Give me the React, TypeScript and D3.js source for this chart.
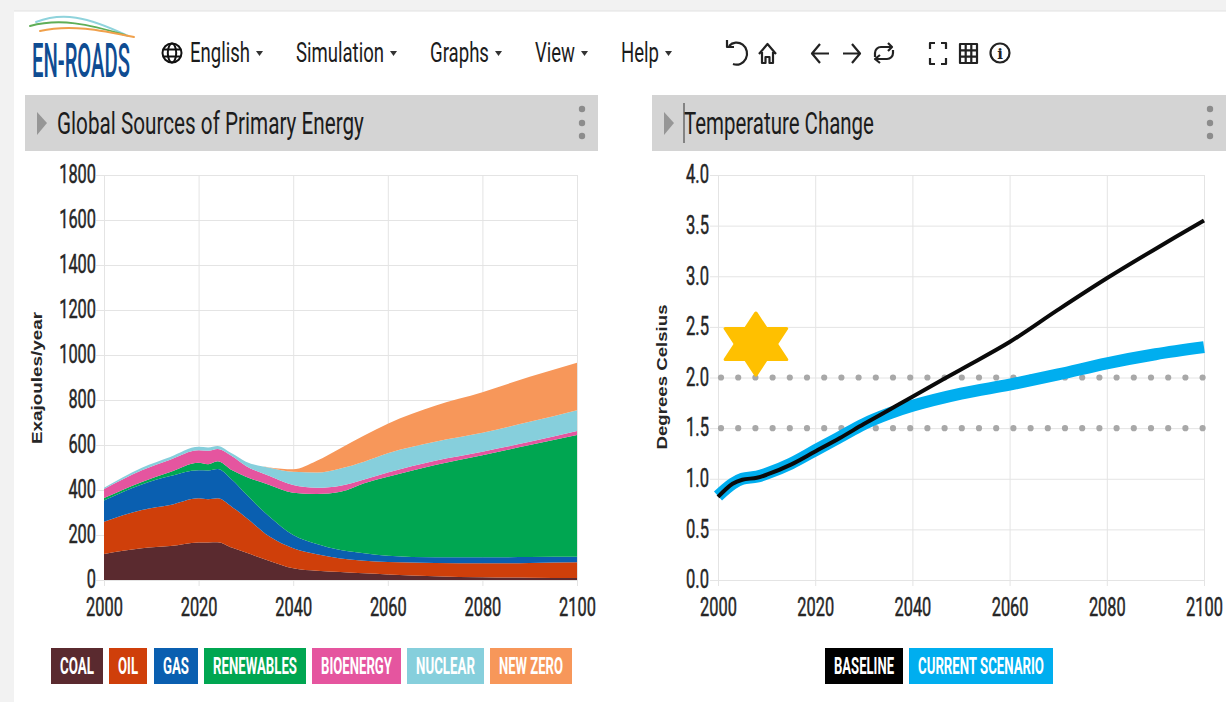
import React, { useEffect, useRef } from "react";
import * as d3 from "d3";

// values
const years = [2000, 2008, 2014, 2020, 2022, 2024, 2027, 2030, 2035, 2040, 2045, 2050, 2055, 2060, 2070, 2080, 2090, 2100];
const coal = [116, 141, 151, 167, 167, 168, 144, 122, 85, 52, 41, 36, 30, 25, 17, 12, 10, 9];
const oil = [143, 170, 182, 196, 192, 195, 182, 156, 108, 89, 73, 60, 56, 55, 59, 62, 66, 70];
const gas = [94, 114, 129, 125, 128, 130, 121, 104, 88, 59, 46, 37, 33, 28, 25, 27, 26, 24];
const renewables = [11, 11, 18, 33, 28, 35, 42, 77, 141, 188, 222, 259, 311, 351, 410, 454, 498, 542];
const bioenergy = [40, 52, 55, 56, 59, 54, 62, 48, 40, 34, 28, 27, 17, 19, 19, 15, 14, 17];
const nuclear = [6, 11, 12, 15, 15, 14, 12, 19, 37, 59, 68, 77, 79, 85, 84, 84, 89, 93];
const newZero = [0, 0, 0, 0, 0, 0, 0, 0, 1, 11, 52, 90, 116, 132, 161, 181, 200, 211];

const energyNames = ["COAL", "OIL", "GAS", "RENEWABLES", "BIOENERGY", "NUCLEAR", "NEW ZERO"];
const energySeries = [coal, oil, gas, renewables, bioenergy, nuclear, newZero];
const energyColors = ["#5a2a2f", "#cf3f0a", "#0a5fb0", "#00a651", "#e5559f", "#86cfdc", "#f7975a"];

const tempYears = [2000, 2003, 2005, 2008, 2010, 2015, 2020, 2025, 2030, 2035, 2040, 2050, 2060, 2070, 2080, 2090, 2100];
const baseline = [0.82, 0.95, 0.99, 1.01, 1.04, 1.14, 1.27, 1.4, 1.54, 1.675, 1.81, 2.08, 2.35, 2.67, 2.98, 3.27, 3.55];
const currentScenario = [0.83, 0.95, 1.0, 1.02, 1.05, 1.15, 1.28, 1.41, 1.54, 1.64, 1.72, 1.84, 1.93, 2.03, 2.14, 2.23, 2.3];

const xTicks = [2000, 2020, 2040, 2060, 2080, 2100];
const energyTicks = [0, 200, 400, 600, 800, 1000, 1200, 1400, 1600, 1800];
const tempTicks = [0, 0.5, 1, 1.5, 2, 2.5, 3, 3.5, 4];
const thresholds = [1.5, 2];

const font = "Roboto, sans-serif";
const top = 175;
const bottom = 580;

const x1 = d3.scaleLinear().domain([2000, 2100]).range([104, 577]);
const y1 = d3.scaleLinear().domain([0, 1800]).range([bottom, top]);
const x2 = d3.scaleLinear().domain([2000, 2100]).range([718, 1204]);
const y2 = d3.scaleLinear().domain([0, 4]).range([bottom, top]);

const labelWidth = (s: string) => s.replace(/\./g, "").length * 9.2 + (s.includes(".") ? 4.6 : 0);

const styleAxis = (g: any, horizontal: boolean) => {
  g.select(".domain").remove();
  g.selectAll(".tick line").attr("stroke", "#e4e4e4").attr("stroke-width", 1);
  const t = g.selectAll(".tick text")
    .attr("font-family", font)
    .attr("font-size", 26)
    .attr("fill", "#262626")
    .attr("stroke", "#262626")
    .attr("stroke-width", 0.5)
    .attr("data-w", function (this: any) { return labelWidth(this.textContent); });
  if (horizontal) t.attr("y", 616 - top).attr("dy", 0);
  else t.attr("dy", "0.3em");
};

// Roboto squeezed sideways to the width of the condensed face in the picture
const squeeze = (root: SVGSVGElement) => {
  d3.select(root).selectAll<SVGTextElement, unknown>("text[data-w]").each(function () {
    const x = +(this.getAttribute("x") || 0);
    const s = +(this.getAttribute("data-w") as string) / this.getComputedTextLength();
    this.setAttribute("transform", `translate(${x},0) scale(${s},1) translate(${-x},0)`);
  });
};

const LegendBox = ({ x, w, label, color }: any) => (
  <g>
    <rect x={x} y={648} width={w} height={36} fill={color} />
    <text x={x + w / 2} y={674} textAnchor="middle" fontFamily={font} fontSize={23} fontWeight={700} fill="#fff"
      data-w={w - 18}>{label}</text>
  </g>
);

const Menu = ({ x, w, label, caret }: any) => (
  <g>
    <text x={x} y={62} fontFamily={font} fontSize={27} fill="#1c1c1c" data-w={w}>{label}</text>
    <path d={`M${caret} 51 h7 l-3.5 5 z`} fill="#333" />
  </g>
);

const PanelBar = ({ x, w, label, textW }: any) => (
  <g>
    <rect x={x} y={95} width={w} height={56} fill="#d4d4d4" />
    <path d={`M${x + 12} 112 l10 11 l-10 12 z`} fill="#969696" />
    <text x={x + 32} y={134} fontFamily={font} fontSize={32} fill="#1c1c1c" data-w={textW}>{label}</text>
    {[109, 123, 136].map((cy) => (
      <circle key={cy} cx={x + w - 16} cy={cy} r={3.2} fill="#8c8c8c" />
    ))}
  </g>
);

export default function App() {
  const svgRef = useRef<SVGSVGElement>(null);
  const leftRef = useRef<SVGGElement>(null);
  const rightRef = useRef<SVGGElement>(null);

  useEffect(() => {
    const left = d3.select(leftRef.current);
    left.selectAll("*").remove();

    const xAxis1 = d3.axisBottom(x1).tickValues(xTicks).tickFormat(d3.format("d") as any).tickSize(bottom - top + 6);
    const yAxis1 = d3.axisLeft(y1).tickValues(energyTicks).tickFormat(d3.format("d") as any).tickSize(8).tickPadding(0);
    const gridY1 = d3.axisLeft(y1).tickValues(energyTicks).tickSize(-(x1(2100) - x1(2000))).tickFormat(() => "");

    left.append("g").attr("transform", `translate(104,0)`).call(gridY1 as any).call((g: any) => styleAxis(g, false));
    left.append("g").attr("transform", `translate(0,${top})`).call(xAxis1 as any).call((g: any) => styleAxis(g, true));
    left.append("g").attr("transform", `translate(104,0)`).call(yAxis1 as any).call((g: any) => styleAxis(g, false));

    const rows = years.map((yr, i) => {
      const row: any = { year: yr };
      energyNames.forEach((n, k) => (row[n] = energySeries[k][i]));
      return row;
    });
    const stacked = d3.stack().keys(energyNames)(rows);
    const area = d3.area<any>()
      .x((d) => x1(d.data.year))
      .y0((d) => y1(d[0]))
      .y1((d) => y1(d[1]))
      .curve(d3.curveMonotoneX);
    left.append("g").selectAll("path").data(stacked).join("path")
      .attr("d", area as any)
      .attr("fill", (_, i) => energyColors[i]);

    const right = d3.select(rightRef.current);
    right.selectAll("*").remove();

    const xAxis2 = d3.axisBottom(x2).tickValues(xTicks).tickFormat(d3.format("d") as any).tickSize(bottom - top + 6);
    const yAxis2 = d3.axisLeft(y2).tickValues(tempTicks).tickFormat(d3.format(".1f") as any).tickSize(8).tickPadding(1);
    const gridY2 = d3.axisLeft(y2).tickValues(tempTicks).tickSize(-(x2(2100) - x2(2000))).tickFormat(() => "");

    right.append("g").attr("transform", `translate(718,0)`).call(gridY2 as any).call((g: any) => styleAxis(g, false));
    right.append("g").attr("transform", `translate(0,${top})`).call(xAxis2 as any).call((g: any) => styleAxis(g, true));
    right.append("g").attr("transform", `translate(718,0)`).call(yAxis2 as any).call((g: any) => styleAxis(g, false));

    right.append("g").selectAll("line").data(thresholds).join("line")
      .attr("x1", x2(2000) + 3).attr("x2", x2(2100))
      .attr("y1", (d) => y2(d)).attr("y2", (d) => y2(d))
      .attr("stroke", "#a8a8a8").attr("stroke-width", 6.2)
      .attr("stroke-linecap", "round").attr("stroke-dasharray", "0 17.2");

    const line = d3.line<number>()
      .x((_, i) => x2(tempYears[i]))
      .y((d) => y2(d))
      .curve(d3.curveCatmullRom);
    right.append("path").attr("d", line(currentScenario)).attr("fill", "none")
      .attr("stroke", "#00aeef").attr("stroke-width", 12);
    right.append("path").attr("d", line(baseline)).attr("fill", "none")
      .attr("stroke", "#0a0a0a").attr("stroke-width", 4);

    // six pointed star made of two triangles
    const tri = d3.lineRadial<number>().angle((d) => d).radius(31).curve(d3.curveLinearClosed);
    const star = right.append("g")
      .attr("transform", `translate(${x2(2007.8)},${y2(2.33)}) scale(1.14,1)`)
      .attr("fill", "#ffc000").attr("stroke", "#ffc000").attr("stroke-width", 3).attr("stroke-linejoin", "round");
    [0, Math.PI].forEach((a) => {
      star.append("path").attr("d", tri([a, a + (2 * Math.PI) / 3, a + (4 * Math.PI) / 3]));
    });

    squeeze(svgRef.current as SVGSVGElement);
  }, []);

  return (
    <svg ref={svgRef} width={1226} height={702} style={{ position: "absolute", left: 0, top: 0, display: "block" }}>
      <rect width={1226} height={702} fill="#f2f2f2" />
      <rect x={14} y={11} width={1212} height={691} fill="#fff" />
      <line x1={14} x2={1226} y1={11} y2={11} stroke="#e2e2e2" />

      {/* logo */}
      <g fill="none" strokeLinecap="round">
        <path d="M36 22 C62 12 86 16 128 36" stroke="#8fd3dc" strokeWidth={2} />
        <path d="M30 26 C60 18 88 24 125 35" stroke="#5fae57" strokeWidth={2} />
        <path d="M40 31 C70 24 100 30 134 37" stroke="#f0a04b" strokeWidth={2} />
      </g>
      <text x={32} y={77} fontFamily={font} fontSize={49} fontWeight={500} fill="#0f4c92" data-w={98}>EN-ROADS</text>

      {/* menu */}
      <g fill="none" stroke="#111" strokeWidth={2}>
        <circle cx={172} cy={53} r={9.5} />
        <ellipse cx={172} cy={53} rx={4.2} ry={9.5} />
        <path d="M163 49.5 h18 M163 56.5 h18" />
      </g>
      <Menu x={190} w={60} label="English" caret={256} />
      <Menu x={296} w={88} label="Simulation" caret={390} />
      <Menu x={430} w={59} label="Graphs" caret={495} />
      <Menu x={535} w={40} label="View" caret={581} />
      <Menu x={621} w={38} label="Help" caret={665} />

      {/* toolbar icons */}
      <g fill="none" stroke="#222" strokeWidth={2.2} strokeLinejoin="round">
        <path d="M729 46 A10.5 11 0 1 1 733 64 M727 40 v7 h7" />
        <path d="M759 54 l8.5 -10 l8.5 10 M762 52 v11 h3.5 v-6 h4 v6 h3.5 v-11" />
        <path d="M829 53.5 h-16 M820 44 l-8 9.5 l8 9.5" />
        <path d="M843 53.5 h16 M852 44 l8 9.5 l-8 9.5" />
        <path d="M875 57 v-4 a6 6 0 0 1 6 -6 h11 M888 43 l4 4 l-4 4 M893 50 v3 a6 6 0 0 1 -6 6 h-12 M880 55 l-5 4 l5 4" />
        <path d="M930 49 v-6 h5 M941 43 h5 v6 M946 58 v6 h-5 M935 64 h-5 v-6" />
        <path d="M960 44 h17 v19 h-17 z M960 50.3 h17 M960 56.6 h17 M965.7 44 v19 M971.3 44 v19" />
        <circle cx={1000} cy={53} r={9.5} />
      </g>
      <text x={1000} y={59} textAnchor="middle" fontFamily="'DejaVu Serif', serif" fontSize={15} fontWeight={700} fill="#222">i</text>

      <PanelBar x={25} w={573} label="Global Sources of Primary Energy" textW={307} />
      <PanelBar x={652} w={574} label="Temperature Change" textW={190} />
      <line x1={684} x2={684} y1={103} y2={143} stroke="#333" strokeWidth={1} />

      <g ref={leftRef} />
      <g ref={rightRef} />

      <text transform="translate(42,378) rotate(-90)" textAnchor="middle" fontFamily="'Liberation Sans', sans-serif" fontSize={15} fontWeight={700} fill="#262626" textLength={132} lengthAdjust="spacingAndGlyphs">Exajoules/year</text>
      <text transform="translate(667,377) rotate(-90)" textAnchor="middle" fontFamily="'Liberation Sans', sans-serif" fontSize={15} fontWeight={700} fill="#262626" textLength={145} lengthAdjust="spacingAndGlyphs">Degrees Celsius</text>

      <LegendBox x={51} w={52} label="COAL" color={energyColors[0]} />
      <LegendBox x={109} w={38} label="OIL" color={energyColors[1]} />
      <LegendBox x={154} w={44} label="GAS" color={energyColors[2]} />
      <LegendBox x={204} w={102} label="RENEWABLES" color={energyColors[3]} />
      <LegendBox x={312} w={89} label="BIOENERGY" color={energyColors[4]} />
      <LegendBox x={407} w={77} label="NUCLEAR" color={energyColors[5]} />
      <LegendBox x={490} w={82} label="NEW ZERO" color={energyColors[6]} />
      <LegendBox x={825} w={78} label="BASELINE" color="#000" />
      <LegendBox x={909} w={144} label="CURRENT SCENARIO" color="#00aeef" />
    </svg>
  );
}
